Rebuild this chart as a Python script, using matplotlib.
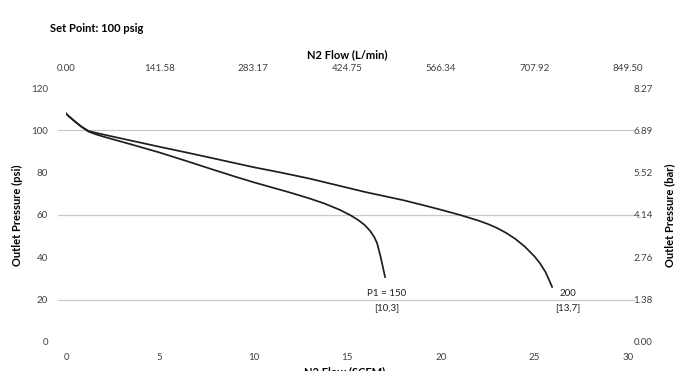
import numpy as np
import matplotlib
matplotlib.use('Agg')
from matplotlib import pyplot as plt

plt.rcParams['font.family'] = ['Lato', 'DejaVu Sans']

# flow (scfm) vs outlet pressure (psi) for two inlet pressures
flow_150 = [0, 0.1, 0.3, 0.5, 0.8, 1.2, 1.6, 2, 3.5, 5, 6.5, 8, 9, 10, 11, 12, 13, 13.8, 14.6, 15.2,
            15.6, 15.95, 16.25, 16.45, 16.6, 16.7, 16.8, 16.9, 17.03]
psi_150 = [108, 107, 105.5, 104, 101.8, 99.4, 98.1, 97, 93.3, 89.5, 85.3, 81, 78.2, 75.5, 73, 70.5, 67.8, 65.4,
           62.5, 59.8, 57.6, 55.2, 52.3, 49.6, 46.8, 43.5, 40, 36, 30.7]
flow_200 = [0, 0.1, 0.3, 0.5, 0.8, 1.2, 1.6, 2, 3.5, 5, 6.5, 8, 10, 11.5, 13, 14.5, 16, 17, 18, 19, 20,
            21, 22, 22.5, 23, 23.5, 24, 24.5, 25, 25.3, 25.6, 25.95]
psi_200 = [108, 107, 105.5, 104, 101.9, 99.7, 98.8, 98, 95.1, 92.2, 89.4, 86.5, 82.6, 80, 77.2, 74, 70.8, 68.9,
           67, 64.8, 62.5, 60.1, 57.4, 55.8, 53.9, 51.5, 48.6, 45, 40.5, 37.2, 33, 26]

x_ticks = [0, 5, 10, 15, 20, 25, 30]
top_labels = ['0.00', '141.58', '283.17', '424.75', '566.34', '707.92', '849.50']
y_ticks = [0, 20, 40, 60, 80, 100, 120]
bar_labels = ['0.00', '1.38', '2.76', '4.14', '5.52', '6.89', '8.27']
grid_y = [20, 60, 100]

fig = plt.figure(figsize=(6.85, 3.71), dpi=100)
ax = fig.add_axes([0.0964, 0.0782, 0.8204, 0.6846])

for g in grid_y:
    ax.plot([-0.45, 30.3], [g, g], color='#c8c8c8', lw=0.9, clip_on=False, zorder=1)

ax.plot(flow_150, psi_150, color='#1e1e1e', lw=1.25, zorder=3, solid_joinstyle='round')
ax.plot(flow_200, psi_200, color='#1e1e1e', lw=1.25, zorder=3, solid_joinstyle='round')

ax.set_xlim(0, 30)
ax.set_ylim(0, 120)
for s in ax.spines.values():
    s.set_visible(False)
ax.set_xticks(x_ticks)
ax.set_yticks(y_ticks)
ax.tick_params(axis='x', length=0, pad=8, labelsize=7, colors='#404040')
ax.tick_params(axis='y', length=0, pad=13, labelsize=7, colors='#404040')
ax.set_ylabel('Outlet Pressure (psi)', fontsize=8, fontweight='bold', labelpad=6)

ax_top = ax.twiny()
ax_top.set_xlim(0, 30)
ax_top.set_xticks(x_ticks)
ax_top.set_xticklabels(top_labels)
ax_top.tick_params(axis='x', length=0, pad=11, labelsize=7, colors='#404040')
ax_top.set_xlabel('N2 Flow (L/min)', fontsize=8, fontweight='bold', labelpad=4)
for s in ax_top.spines.values():
    s.set_visible(False)

ax_r = ax.twinx()
ax_r.set_ylim(0, 120)
ax_r.set_yticks(y_ticks)
ax_r.set_yticklabels(bar_labels)
ax_r.tick_params(axis='y', length=0, pad=4, labelsize=7, colors='#404040')
ax_r.set_ylabel('Outlet Pressure (bar)', fontsize=8, fontweight='bold', rotation=90, labelpad=8)
for s in ax_r.spines.values():
    s.set_visible(False)

ax.text(17.1, 23.1, 'P1 = 150', fontsize=7, ha='center', va='center', color='#202020')
ax.text(17.1, 16.0, '[10,3]', fontsize=7, ha='center', va='center', color='#202020')
ax.text(26.8, 23.1, '200', fontsize=7, ha='center', va='center', color='#202020')
ax.text(26.8, 16.0, '[13,7]', fontsize=7, ha='center', va='center', color='#202020')

fig.text(50 / 685, 1 - 28 / 371, 'Set Point: 100 psig', fontsize=8, fontweight='bold', va='center')
# bottom axis title sits mostly below the image edge, as in the source
fig.text(345 / 685, 1 - 366 / 371, 'N2 Flow (SCFM)', fontsize=8, fontweight='bold', ha='center', va='top')

fig.savefig('out.png', dpi=100)
